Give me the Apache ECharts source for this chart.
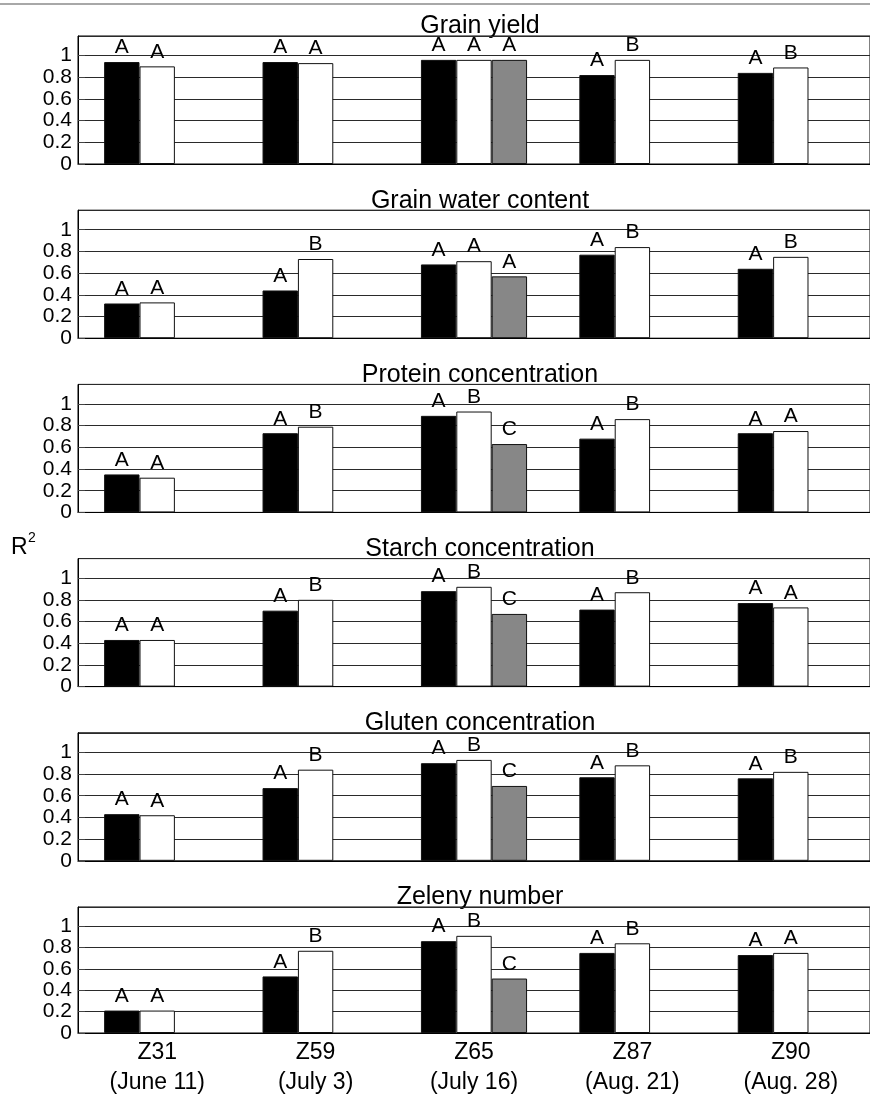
<!DOCTYPE html>
<html>
<head>
<meta charset="utf-8">
<script src="https://cdn.jsdelivr.net/npm/echarts@6/dist/echarts.min.js"></script>
<style>
  html, body { margin: 0; padding: 0; background: #fff; }
  #chart { width: 870px; height: 1098px; }
</style>
</head>
<body>
<div id="chart"></div>
<script>
// Growth stages and sampling dates along the shared x axis
const stages = ['Z31', 'Z59', 'Z65', 'Z87', 'Z90'];
const dates = ['(June 11)', '(July 3)', '(July 16)', '(Aug. 21)', '(Aug. 28)'];
const panelTitles = ['Grain yield', 'Grain water content', 'Protein concentration',
                     'Starch concentration', 'Gluten concentration', 'Zeleny number'];
const yTickStep = 0.2;
const yMax = 1.18;

// R² values: black, white and grey bars for each trait (grey only at Z65)
const grainYieldBlack = [0.94, 0.94, 0.96, 0.82, 0.84];
const grainYieldWhite = [0.90, 0.93, 0.96, 0.96, 0.89];
const grainYieldGrey  = [null, null, 0.96, null, null];
const grainYieldLetters = [['A', 'A', 'A', 'A', 'A'], ['A', 'A', 'A', 'B', 'B'], ['', '', 'A', '', '']];

const waterBlack = [0.32, 0.44, 0.68, 0.77, 0.64];
const waterWhite = [0.33, 0.73, 0.71, 0.84, 0.75];
const waterGrey  = [null, null, 0.57, null, null];
const waterLetters = [['A', 'A', 'A', 'A', 'A'], ['A', 'B', 'A', 'B', 'B'], ['', '', 'A', '', '']];

const proteinBlack = [0.35, 0.73, 0.89, 0.68, 0.73];
const proteinWhite = [0.32, 0.79, 0.93, 0.86, 0.75];
const proteinGrey  = [null, null, 0.63, null, null];
const proteinLetters = [['A', 'A', 'A', 'A', 'A'], ['A', 'B', 'B', 'B', 'A'], ['', '', 'C', '', '']];

const starchBlack = [0.43, 0.70, 0.88, 0.71, 0.77];
const starchWhite = [0.43, 0.80, 0.92, 0.87, 0.73];
const starchGrey  = [null, null, 0.67, null, null];
const starchLetters = [['A', 'A', 'A', 'A', 'A'], ['A', 'B', 'B', 'B', 'A'], ['', '', 'C', '', '']];

const glutenBlack = [0.43, 0.67, 0.90, 0.77, 0.76];
const glutenWhite = [0.42, 0.84, 0.93, 0.88, 0.82];
const glutenGrey  = [null, null, 0.69, null, null];
const glutenLetters = [['A', 'A', 'A', 'A', 'A'], ['A', 'B', 'B', 'B', 'B'], ['', '', 'C', '', '']];

const zelenyBlack = [0.21, 0.53, 0.86, 0.75, 0.73];
const zelenyWhite = [0.21, 0.77, 0.91, 0.84, 0.75];
const zelenyGrey  = [null, null, 0.51, null, null];
const zelenyLetters = [['A', 'A', 'A', 'A', 'A'], ['A', 'B', 'B', 'B', 'A'], ['', '', 'C', '', '']];

const panelValues = [
  [grainYieldBlack, grainYieldWhite, grainYieldGrey],
  [waterBlack, waterWhite, waterGrey],
  [proteinBlack, proteinWhite, proteinGrey],
  [starchBlack, starchWhite, starchGrey],
  [glutenBlack, glutenWhite, glutenGrey],
  [zelenyBlack, zelenyWhite, zelenyGrey]
];
const panelLetters = [grainYieldLetters, waterLetters, proteinLetters,
                      starchLetters, glutenLetters, zelenyLetters];

const FONT = 'Liberation Sans';
const barFills = ['#000000', '#ffffff', '#878787'];

const gridLeft = 78;
const gridRight = -12;
const gridTop0 = 36;
const gridStep = 174.2;
const gridHeight = 128;
const plotCenterX = gridLeft + (870 - gridLeft - gridRight) / 2;

const categories = stages.map((s, i) => s + '\n' + dates[i]);

const grids = [], xAxes = [], yAxes = [], series = [], graphics = [];

panelTitles.forEach((title, p) => {
  const top = gridTop0 + p * gridStep;
  grids.push({
    left: gridLeft, right: gridRight, top: top, height: gridHeight,
    show: true, borderColor: '#000', borderWidth: 1, backgroundColor: 'transparent'
  });
  xAxes.push({
    type: 'category', gridIndex: p, data: categories,
    axisLine: { lineStyle: { color: '#000', width: 1 } },
    axisTick: { show: false },
    axisLabel: {
      show: p === panelTitles.length - 1, interval: 0, color: '#000',
      fontFamily: FONT, fontSize: 23, lineHeight: 30, margin: 5
    }
  });
  yAxes.push({
    type: 'value', gridIndex: p, min: 0, max: yMax, interval: yTickStep,
    axisLine: { show: true, lineStyle: { color: '#000', width: 1 } },
    axisTick: { show: true, inside: true, length: 7, lineStyle: { color: '#444' } },
    axisLabel: { color: '#000', fontFamily: FONT, fontSize: 21, margin: 6 },
    splitLine: { show: true, lineStyle: { color: '#2a2a2a', width: 1 } }
  });
  panelValues[p].forEach((vals, s) => {
    series.push({
      type: 'bar', xAxisIndex: p, yAxisIndex: p,
      data: vals.map(v => (v == null ? '-' : v)),
      barGap: '0%', barCategoryGap: '33%',
      itemStyle: { color: barFills[s], borderColor: '#111', borderWidth: 1 },
      label: {
        show: true, position: 'top', distance: 4, color: '#000',
        fontFamily: FONT, fontSize: 21,
        formatter: prm => panelLetters[p][s][prm.dataIndex] || ''
      },
      emphasis: { disabled: true },
      animation: false
    });
  });
  graphics.push({
    type: 'text', x: plotCenterX, y: top + 3,
    style: {
      text: title, fill: '#000', fontFamily: FONT, fontSize: 25,
      textAlign: 'center', textVerticalAlign: 'bottom',
      align: 'center', verticalAlign: 'bottom'
    }
  });
});

// thin rule across the top of the page
graphics.push({
  type: 'line', shape: { x1: 0, y1: 4, x2: 870, y2: 4 },
  style: { stroke: '#a8a8a8', lineWidth: 2 }
});
// shared y-axis title R²
graphics.push({
  type: 'text', x: 11, y: 559,
  style: { text: 'R', fill: '#000', fontFamily: FONT, fontSize: 23,
           textVerticalAlign: 'bottom', verticalAlign: 'bottom' }
});
graphics.push({
  type: 'text', x: 28, y: 545,
  style: { text: '2', fill: '#000', fontFamily: FONT, fontSize: 14,
           textVerticalAlign: 'bottom', verticalAlign: 'bottom' }
});

const chart = echarts.init(document.getElementById('chart'), null, { renderer: 'canvas' });
chart.setOption({
  animation: false,
  backgroundColor: '#fff',
  grid: grids,
  xAxis: xAxes,
  yAxis: yAxes,
  series: series,
  graphic: graphics
});
</script>
</body>
</html>
